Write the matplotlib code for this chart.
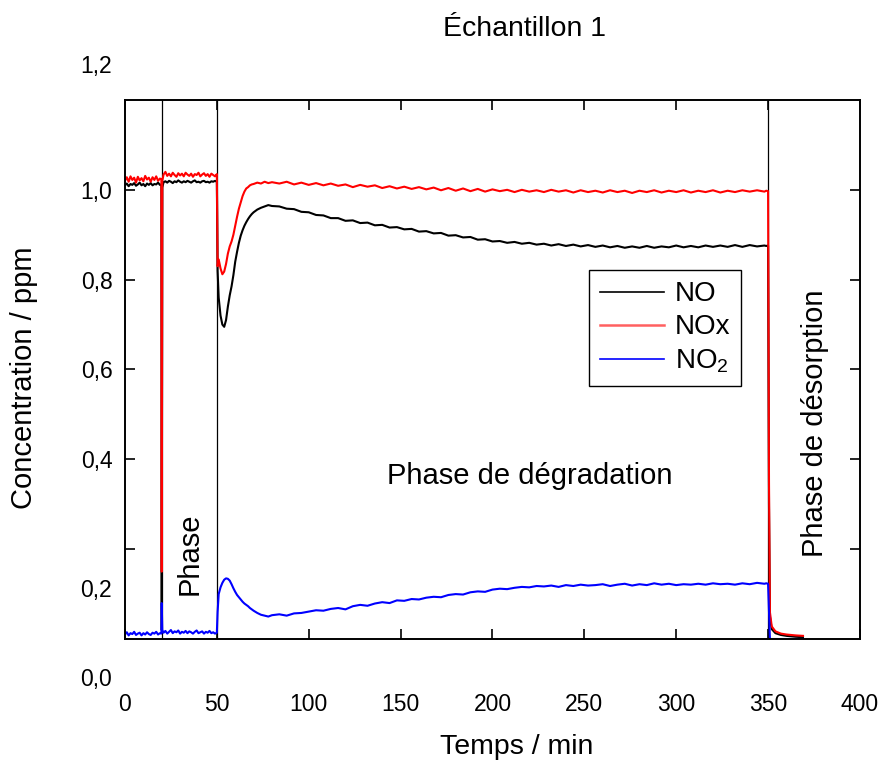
import matplotlib
matplotlib.use("Agg")
import matplotlib.pyplot as plt
from matplotlib.lines import Line2D

plt.rcParams['font.family'] = ['Liberation Sans', 'DejaVu Sans']
plt.rcParams['mathtext.fontset'] = 'custom'
plt.rcParams['mathtext.rm'] = 'Liberation Sans'
plt.rcParams['mathtext.it'] = 'Liberation Sans:italic'

# sampling times (min)
t_min = [
    0, 1, 2, 3, 4, 5, 6, 7, 8, 9, 10, 11, 12, 13, 14, 15, 16, 17, 18, 19,
    19.8, 20.0, 20.3,
    21, 22, 23, 24, 25, 26, 27, 28, 29, 30, 31, 32, 33, 34, 35, 36, 37, 38, 39, 40,
    41, 42, 43, 44, 45, 46, 47, 48, 49, 50,
    50.4,
    51, 52, 53, 54, 55, 56, 57, 58, 59, 60, 61, 62, 63, 64, 65, 66, 67, 68, 69, 70,
    72, 74, 76, 78, 80,
    84, 88, 92, 96, 100, 104, 108, 112, 116, 120,
    124, 128, 132, 136, 140, 144, 148, 152, 156, 160,
    164, 168, 172, 176, 180, 184, 188, 192, 196, 200,
    204, 208, 212, 216, 220, 224, 228, 232, 236, 240,
    244, 248, 252, 256, 260, 264, 268, 272, 276, 280,
    284, 288, 292, 296, 300, 304, 308, 312, 316, 320,
    324, 328, 332, 336, 340, 344, 348,
    349, 350, 350.5, 351, 352, 354, 357, 360, 365, 369,
]

no_ppm = [
    1.010, 1.014, 1.008, 1.013, 1.011, 1.015, 1.009, 1.012, 1.016, 1.010,
    1.013, 1.008, 1.014, 1.011, 1.015, 1.010, 1.013, 1.012, 1.016, 1.011,
    1.012, 0.02, 1.005,
    1.017, 1.019, 1.016, 1.020, 1.018, 1.015, 1.019, 1.017, 1.021, 1.018,
    1.016, 1.019, 1.017, 1.020, 1.018, 1.016, 1.019, 1.021, 1.017, 1.018,
    1.016, 1.019, 1.020, 1.017, 1.018, 1.016, 1.019, 1.018, 1.020, 1.018,
    0.82,
    0.76, 0.72, 0.70, 0.695, 0.71, 0.74, 0.765, 0.785, 0.81, 0.84,
    0.862, 0.882, 0.898, 0.91, 0.92, 0.928, 0.935, 0.941, 0.946, 0.95,
    0.956, 0.96, 0.963, 0.966, 0.964,
    0.963, 0.958, 0.957, 0.951, 0.950, 0.944, 0.943, 0.937, 0.937, 0.931,
    0.932, 0.926, 0.927, 0.921, 0.922, 0.916, 0.917, 0.912, 0.913, 0.907,
    0.908, 0.903, 0.904, 0.898, 0.899, 0.894, 0.895, 0.889, 0.890, 0.885,
    0.886, 0.882, 0.884, 0.880, 0.882, 0.878, 0.880, 0.876, 0.879, 0.875,
    0.878, 0.874, 0.877, 0.873, 0.876, 0.872, 0.875, 0.871, 0.874, 0.871,
    0.875, 0.871, 0.874, 0.872, 0.876, 0.872, 0.875, 0.872, 0.876, 0.873,
    0.876, 0.873, 0.877, 0.873, 0.877, 0.874, 0.876,
    0.875, 0.876, 0.30, 0.05, 0.022, 0.013, 0.009, 0.007, 0.005, 0.004,
]

nox_ppm = [
    1.020, 1.028, 1.018, 1.030, 1.022, 1.027, 1.016, 1.029, 1.021, 1.026,
    1.019, 1.031, 1.023, 1.027, 1.018, 1.028, 1.022, 1.030, 1.020, 1.025,
    1.024, 0.15, 1.02,
    1.034, 1.040, 1.031, 1.036, 1.030, 1.038, 1.033, 1.029, 1.037, 1.032,
    1.036, 1.030, 1.038, 1.034, 1.031, 1.036, 1.029, 1.035, 1.033, 1.038,
    1.030, 1.034, 1.037, 1.031, 1.035, 1.029, 1.036, 1.033, 1.030, 1.035,
    0.83,
    0.845, 0.825, 0.812, 0.818, 0.835, 0.858, 0.874, 0.885, 0.90, 0.92,
    0.94, 0.958, 0.972, 0.986, 0.996, 1.003, 1.006, 1.010, 1.012, 1.013,
    1.016, 1.014, 1.018, 1.015, 1.017,
    1.014, 1.018, 1.012, 1.016, 1.011, 1.015, 1.010, 1.014, 1.009, 1.012,
    1.006, 1.011, 1.007, 1.010, 1.004, 1.008, 1.003, 1.007, 1.002, 1.006,
    1.001, 1.005, 0.999, 1.004, 0.998, 1.003, 0.997, 1.002, 0.996, 1.001,
    0.997, 1.000, 0.995, 1.000, 0.996, 0.999, 0.995, 1.000, 0.996, 0.999,
    0.994, 0.999, 0.995, 0.998, 0.994, 0.999, 0.995, 0.998, 0.993, 0.998,
    0.995, 0.999, 0.994, 0.998, 0.995, 0.999, 0.994, 0.998, 0.995, 0.999,
    0.994, 0.998, 0.995, 0.999, 0.996, 0.999, 0.996,
    0.998, 0.997, 0.35, 0.06, 0.028, 0.017, 0.012, 0.010, 0.008, 0.007,
]

no2_ppm = [
    0.010, 0.015, 0.008, 0.013, 0.011, 0.016, 0.009, 0.012, 0.014, 0.008,
    0.013, 0.010, 0.015, 0.011, 0.009, 0.014, 0.012, 0.016, 0.010, 0.013,
    0.012, 0.08, 0.02,
    0.014, 0.018, 0.012, 0.016, 0.020, 0.013, 0.017, 0.015, 0.019, 0.012,
    0.016, 0.014, 0.018, 0.013, 0.017, 0.015, 0.012, 0.016, 0.019, 0.013,
    0.015, 0.017, 0.012, 0.016, 0.014, 0.018, 0.013, 0.015, 0.012, 0.014,
    0.06,
    0.10, 0.115, 0.125, 0.132, 0.135, 0.134, 0.130, 0.122, 0.113, 0.105,
    0.098, 0.093, 0.088, 0.083, 0.079, 0.076, 0.073, 0.069, 0.066, 0.063,
    0.058, 0.054, 0.052, 0.050, 0.053,
    0.055, 0.052, 0.057, 0.058, 0.061, 0.064, 0.063, 0.067, 0.069, 0.066,
    0.073, 0.076, 0.074, 0.079, 0.082, 0.080, 0.086, 0.085, 0.089, 0.088,
    0.092, 0.094, 0.093, 0.098, 0.100, 0.099, 0.104, 0.106, 0.105, 0.110,
    0.112, 0.111, 0.114, 0.116, 0.115, 0.118, 0.117, 0.119, 0.116, 0.120,
    0.118, 0.121, 0.119, 0.120, 0.122, 0.118, 0.121, 0.123, 0.119, 0.122,
    0.120, 0.124, 0.121, 0.123, 0.120, 0.122, 0.121, 0.123, 0.121, 0.124,
    0.122, 0.123, 0.121, 0.124, 0.122, 0.125, 0.123,
    0.124, 0.123, 0.06, 0.0, 0.0, 0.0, 0.0, 0.0, 0.0, 0.0,
]

phase_bounds = [20, 50, 350]
x_ticks = [0, 50, 100, 150, 200, 250, 300, 350, 400]
y_ticks = [0.2, 0.4, 0.6, 0.8, 1.0]
y_ticklabels = ['', '0,4', '0,6', '0,8', '1,0']

fig = plt.figure(figsize=(8.82, 7.65), dpi=100)
ax = fig.add_axes([0.1417, 0.1647, 0.8333, 0.7046])

for xb in phase_bounds:
    ax.axvline(xb, color='black', lw=0.9, zorder=1.5)

ax.plot(t_min, no_ppm, color='black', lw=1.5, zorder=2)
ax.plot(t_min, nox_ppm, color='#ff0000', lw=1.5, zorder=2.1)
ax.plot(t_min, no2_ppm, color='#0000ff', lw=1.5, zorder=2.2)

ax.set_xlim(0, 400)
ax.set_ylim(0, 1.2)
ax.set_xticks(x_ticks)
ax.set_xticklabels([str(v) for v in x_ticks])
ax.set_yticks(y_ticks)
ax.set_yticklabels(y_ticklabels)
ax.tick_params(direction='in', length=7, width=1.2, top=True, right=True,
               labelsize=16.5)
ax.tick_params(axis='x', pad=39)
ax.tick_params(axis='y', pad=9)
for sp in ax.spines.values():
    sp.set_linewidth(1.4)

# tick labels that sit away from their ticks in the original
ytr = ax.get_yaxis_transform()
for val, lab in [(1.2756, '1,2'), (0.109, '0,2'), (-0.091, '0,0')]:
    ax.text(-0.0177, val, lab, transform=ytr, ha='right', va='center',
            fontsize=16.5, clip_on=False)

ax.set_xlabel('Temps / min', fontsize=20.5)
ax.xaxis.set_label_coords(0.533, -0.176)
ax.set_ylabel('Concentration / ppm', fontsize=21)
ax.yaxis.set_label_coords(-0.118, 0.484)

fig.text(0.5947, 0.953, 'Échantillon 1', ha='center', va='baseline', fontsize=20.5)

ax.text(35.4, 0.19, 'Phase', rotation=90, ha='center', va='center', fontsize=21)
ax.text(220.4, 0.362, 'Phase de dégradation', ha='center', va='center', fontsize=21)
ax.text(375.5, 0.48, 'Phase de désorption', rotation=90, ha='center', va='center',
        fontsize=21)

handles = [Line2D([], [], color='black', lw=1.2),
           Line2D([], [], color='#ff6060', lw=1.8),
           Line2D([], [], color='#0000ff', lw=1.2)]
leg = ax.legend(handles, ['NO', 'NOx', 'NO$_2$'], loc='upper left',
                bbox_to_anchor=(0.631, 0.684), borderaxespad=0, fontsize=20,
                frameon=True, fancybox=False, framealpha=1, edgecolor='black',
                handlelength=2.3, handletextpad=0.4, labelspacing=0.25,
                borderpad=0.4)
leg.get_frame().set_linewidth(1.0)

fig.savefig('out.png', dpi=100)
